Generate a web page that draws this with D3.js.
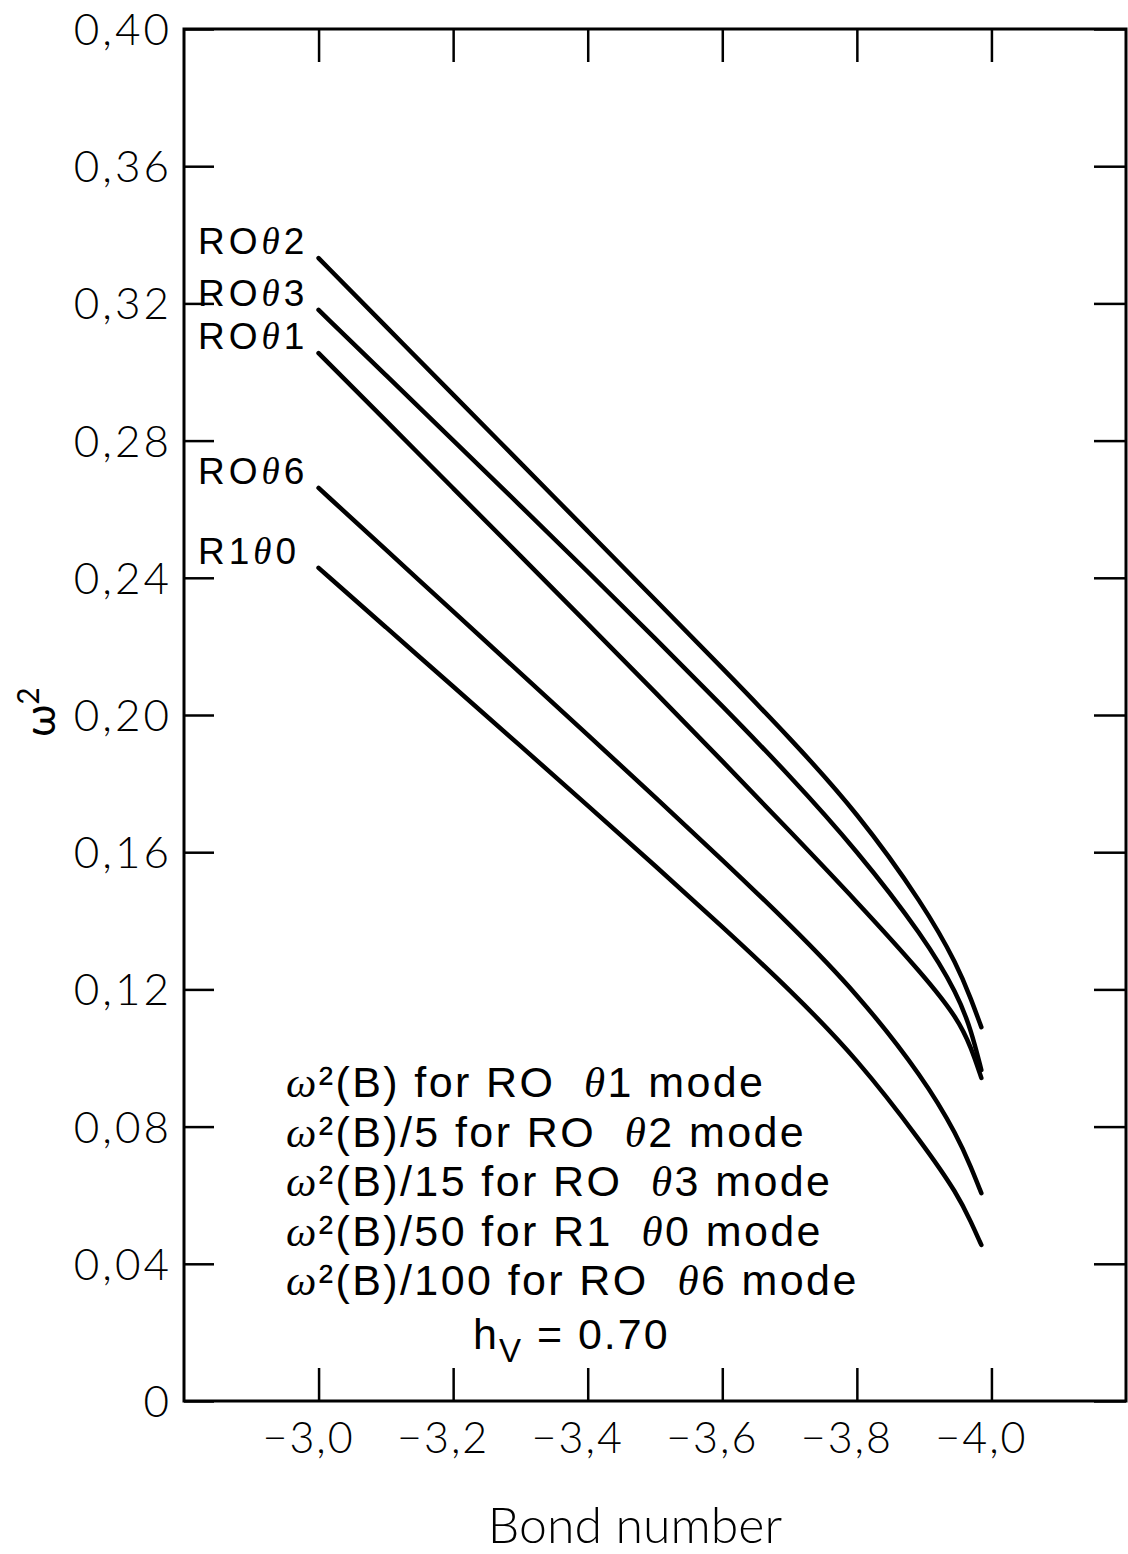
<!DOCTYPE html>
<html>
<head>
<meta charset="utf-8">
<script src="https://cdn.jsdelivr.net/npm/d3@7"></script>
<style>
  html, body { margin: 0; padding: 0; background: #fff; }
  svg { display: block; }
  text { fill: #000; }
</style>
</head>
<body>
<svg id="chart" width="1128" height="1554"></svg>
<script>
const bondNumbers = [-3.0, -3.1, -3.2, -3.3, -3.4, -3.5, -3.6, -3.7, -3.8, -3.9, -3.95, -3.97, -3.985];

// omega^2 (scaled) for each mode
const ro2 = [0.3332, 0.3133, 0.2934, 0.2735, 0.2536, 0.2337, 0.2137, 0.1934, 0.1718, 0.1445, 0.1268, 0.1170, 0.1090];
const ro3 = [0.3181, 0.2991, 0.2801, 0.2610, 0.2418, 0.2224, 0.2027, 0.1824, 0.1606, 0.1352, 0.1185, 0.1080, 0.0965];
const ro1 = [0.3055, 0.2858, 0.2661, 0.2464, 0.2266, 0.2067, 0.1866, 0.1662, 0.1456, 0.1240, 0.1115, 0.1030, 0.0942];
const ro6 = [0.2662, 0.2482, 0.2302, 0.2122, 0.1942, 0.1761, 0.1578, 0.1390, 0.1190, 0.0940, 0.0770, 0.0680, 0.0606];
const r10 = [0.2429, 0.2256, 0.2083, 0.1910, 0.1736, 0.1561, 0.1383, 0.1200, 0.1000, 0.0745, 0.0602, 0.0520, 0.0455];

// curve labels: prefix + theta index
const curveNames = [["RO", "2"], ["RO", "3"], ["RO", "1"], ["RO", "6"], ["R1", "0"]];
const curveSeries = [ro2, ro3, ro1, ro6, r10];

// axis ticks
const xTicks = [-3.0, -3.2, -3.4, -3.6, -3.8, -4.0];
const xTickLabels = ["\u22123,0", "\u22123,2", "\u22123,4", "\u22123,6", "\u22123,8", "\u22124,0"];
const yTicks = [0, 0.04, 0.08, 0.12, 0.16, 0.20, 0.24, 0.28, 0.32, 0.36, 0.40];
const yTickLabels = ["0", "0,04", "0,08", "0,12", "0,16", "0,20", "0,24", "0,28", "0,32", "0,36", "0,40"];

// legend text
const legendDivisors = ["", "/5", "/15", "/50", "/100"];
const legendModes = [["RO", "1"], ["RO", "2"], ["RO", "3"], ["R1", "0"], ["RO", "6"]];

const area = { left: 184, right: 1126, top: 29, bottom: 1401 };

const svg = d3.select("#chart");

const x = d3.scaleLinear().domain([-2.8, -4.2]).range([area.left, area.right]);
const y = d3.scaleLinear().domain([0, 0.4]).range([area.bottom, area.top]);

const tickFont = "Lato, 'Open Sans', 'DejaVu Sans', sans-serif";
const textFont = "'Liberation Sans', Arial, Helvetica, sans-serif";
const greekFont = "'Liberation Serif', 'Times New Roman', serif";

// inward ticks on all four sides
function drawAxes() {
    svg.append("g")
        .attr("transform", `translate(0, ${area.bottom})`)
        .call(d3.axisBottom(x).tickValues(xTicks).tickSize(-33).tickSizeOuter(0).tickFormat(""));
    svg.append("g")
        .attr("transform", `translate(0, ${area.top})`)
        .call(d3.axisTop(x).tickValues(xTicks).tickSize(-33).tickSizeOuter(0).tickFormat(""));
    svg.append("g")
        .attr("transform", `translate(${area.left}, 0)`)
        .call(d3.axisLeft(y).tickValues(yTicks).tickSize(-30).tickSizeOuter(0).tickFormat(""));
    svg.append("g")
        .attr("transform", `translate(${area.right}, 0)`)
        .call(d3.axisRight(y).tickValues(yTicks).tickSize(-32).tickSizeOuter(0).tickFormat(""));

    svg.selectAll(".domain").remove();
    svg.selectAll(".tick line").attr("stroke", "#000").attr("stroke-width", 2.5);

    svg.append("rect")
        .attr("x", area.left)
        .attr("y", area.top)
        .attr("width", area.right - area.left)
        .attr("height", area.bottom - area.top)
        .attr("fill", "none")
        .attr("stroke", "#000")
        .attr("stroke-width", 3);

    svg.selectAll(".ylab")
        .data(yTicks)
        .enter()
        .append("text")
        .attr("class", "ylab")
        .attr("x", 172)
        .attr("y", d => y(d) + 16)
        .attr("text-anchor", "end")
        .attr("font-family", tickFont)
        .attr("font-weight", 300)
        .attr("font-size", 44)
        .attr("letter-spacing", 3)
        .text((d, i) => yTickLabels[i]);

    svg.selectAll(".xlab")
        .data(xTicks)
        .enter()
        .append("text")
        .attr("class", "xlab")
        .attr("x", d => x(d) - 10)
        .attr("y", 1453)
        .attr("text-anchor", "middle")
        .attr("font-family", tickFont)
        .attr("font-weight", 300)
        .attr("font-size", 43)
        .attr("letter-spacing", 2)
        .text((d, i) => xTickLabels[i]);

    svg.append("text")
        .attr("x", 635)
        .attr("y", 1543)
        .attr("text-anchor", "middle")
        .attr("font-family", tickFont)
        .attr("font-weight", 300)
        .attr("font-size", 50)
        .text("Bond number");

    const yl = svg.append("text")
        .attr("transform", "translate(55, 712) rotate(-90)")
        .attr("text-anchor", "middle")
        .attr("font-family", tickFont)
        .attr("font-size", 42);
    yl.append("tspan").text("\u03c9");
    yl.append("tspan").attr("dy", -16).attr("font-size", 30).text("2");
}

function drawCurves() {
    // basis spline smooths the small reading errors between points
    const line = d3.line()
        .x(d => x(d[0]))
        .y(d => y(d[1]))
        .curve(d3.curveBasis);

    curveSeries.forEach((series, k) => {
        const pts = bondNumbers.map((b, i) => [b, series[i]]);
        svg.append("path")
            .datum(pts)
            .attr("fill", "none")
            .attr("stroke", "#000")
            .attr("stroke-width", 4.5)
            .attr("stroke-linecap", "round")
            .attr("d", line);

        const lab = svg.append("text")
            .attr("x", 198)
            .attr("y", y(series[0]) - 4)
            .attr("font-family", textFont)
            .attr("font-size", 37)
            .attr("letter-spacing", 4);
        lab.append("tspan").text(curveNames[k][0]);
        lab.append("tspan").attr("font-family", greekFont).attr("font-style", "italic").text("\u03b8");
        lab.append("tspan").text(curveNames[k][1]);
    });
}

function drawLegend() {
    const baseY = 1097;
    const step = 49.5;
    legendDivisors.forEach((dv, i) => {
        const t = svg.append("text")
            .attr("x", 286)
            .attr("y", baseY + i * step)
            .attr("font-family", textFont)
            .attr("font-size", 43)
            .attr("letter-spacing", 2.4)
            .style("white-space", "pre");
        t.append("tspan").attr("font-family", greekFont).attr("font-style", "italic").text("\u03c9");
        t.append("tspan").text("\u00b2(B)" + dv + " for " + legendModes[i][0] + "  ");
        t.append("tspan").attr("font-family", greekFont).attr("font-style", "italic").text("\u03b8");
        t.append("tspan").text(legendModes[i][1] + " mode");
    });

    const h = svg.append("text")
        .attr("x", 473)
        .attr("y", 1349)
        .attr("font-family", textFont)
        .attr("font-size", 43)
        .attr("letter-spacing", 2);
    h.append("tspan").text("h");
    h.append("tspan").attr("dy", 13).attr("font-size", 33).text("V");
    h.append("tspan").attr("dy", -13).text(" = 0.70");
}

drawAxes();
drawCurves();
drawLegend();
</script>
</body>
</html>
